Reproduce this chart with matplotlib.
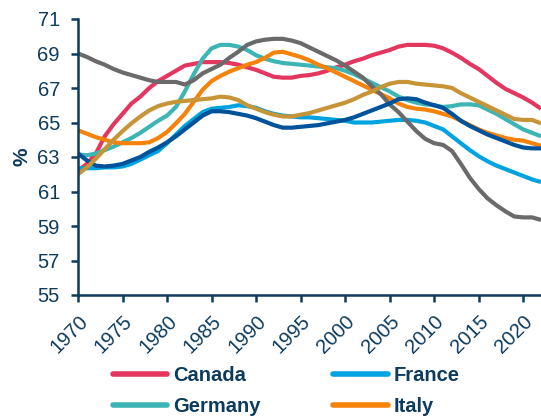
import numpy as np
import matplotlib
matplotlib.use("Agg")
import matplotlib.pyplot as plt

# working-age population share, %
years = np.arange(1970, 2023)

canada = [62.2, 62.6, 63.2, 64.2, 64.9, 65.5, 66.1, 66.5, 67.0, 67.4,
          67.7, 68.0, 68.3, 68.4, 68.5, 68.5, 68.5, 68.45, 68.35, 68.2,
          68.05, 67.85, 67.65, 67.6, 67.6, 67.7, 67.75, 67.85, 68.0, 68.2,
          68.35, 68.55, 68.7, 68.9, 69.05, 69.2, 69.4, 69.5, 69.5, 69.5,
          69.45, 69.3, 69.05, 68.75, 68.4, 68.1, 67.7, 67.3, 66.95, 66.7,
          66.45, 66.15, 65.8]
france = [62.35, 62.35, 62.35, 62.4, 62.4, 62.45, 62.6, 62.85, 63.1, 63.35,
          63.8, 64.3, 64.8, 65.2, 65.6, 65.8, 65.85, 65.9, 66.0, 65.95,
          65.85, 65.65, 65.5, 65.4, 65.35, 65.3, 65.3, 65.25, 65.2, 65.15,
          65.1, 65.0, 65.0, 65.0, 65.05, 65.1, 65.15, 65.15, 65.1, 65.0,
          64.8, 64.6, 64.2, 63.8, 63.4, 63.05, 62.75, 62.5, 62.3, 62.1,
          61.9, 61.7, 61.55]
germany = [63.15, 63.1, 63.2, 63.4, 63.6, 63.85, 64.1, 64.4, 64.75, 65.1,
           65.4, 65.9, 66.8, 67.8, 68.7, 69.3, 69.5, 69.5, 69.4, 69.2,
           68.9, 68.7, 68.55, 68.45, 68.4, 68.35, 68.3, 68.25, 68.2, 68.15,
           68.0, 67.8, 67.55, 67.3, 67.05, 66.8, 66.5, 66.3, 66.15, 66.05,
           66.0, 65.9, 65.95, 66.05, 66.05, 66.0, 65.75, 65.5, 65.2, 64.9,
           64.6, 64.4, 64.2]
italy = [64.55, 64.35, 64.15, 64.0, 63.85, 63.8, 63.8, 63.8, 63.85, 64.1,
         64.45, 64.95, 65.5, 66.2, 66.9, 67.4, 67.7, 67.95, 68.15, 68.35,
         68.5, 68.75, 69.05, 69.1, 68.95, 68.8, 68.6, 68.35, 68.15, 67.9,
         67.65, 67.4, 67.15, 66.9, 66.65, 66.4, 66.1, 65.9, 65.8, 65.75,
         65.65, 65.5, 65.35, 65.1, 64.85, 64.6, 64.4, 64.25, 64.1, 64.0,
         63.95, 63.8, 63.65]
japan = [69.0, 68.8, 68.55, 68.35, 68.1, 67.9, 67.75, 67.6, 67.45, 67.35,
         67.35, 67.35, 67.2, 67.45, 67.85, 68.1, 68.35, 68.75, 69.1, 69.5,
         69.7, 69.8, 69.85, 69.85, 69.75, 69.6, 69.35, 69.1, 68.85, 68.6,
         68.3, 67.95, 67.6, 67.1, 66.65, 66.05, 65.6, 65.05, 64.5, 64.05,
         63.8, 63.7, 63.35, 62.6, 61.8, 61.15, 60.6, 60.2, 59.85, 59.55,
         59.5, 59.5, 59.35]
uk = [63.2, 62.8, 62.5, 62.45, 62.5, 62.6, 62.8, 63.0, 63.3, 63.55,
      63.85, 64.2, 64.6, 65.0, 65.4, 65.65, 65.65, 65.6, 65.5, 65.4,
      65.25, 65.05, 64.85, 64.7, 64.7, 64.75, 64.8, 64.85, 64.95, 65.05,
      65.15, 65.3, 65.5, 65.7, 65.9, 66.1, 66.35, 66.4, 66.35, 66.15,
      66.0, 65.85, 65.5, 65.1, 64.8, 64.55, 64.3, 64.1, 63.9, 63.7,
      63.55, 63.5, 63.5]
us = [62.0, 62.4, 62.9, 63.45, 64.0, 64.5, 64.95, 65.35, 65.7, 65.95,
      66.1, 66.2, 66.25, 66.3, 66.35, 66.4, 66.5, 66.45, 66.3, 66.0,
      65.8, 65.6, 65.45, 65.35, 65.35, 65.45, 65.55, 65.7, 65.85, 66.0,
      66.15, 66.35, 66.6, 66.8, 67.05, 67.25, 67.35, 67.35, 67.25, 67.2,
      67.15, 67.1, 67.0, 66.7, 66.45, 66.2, 65.95, 65.7, 65.45, 65.2,
      65.15, 65.15, 64.95]

names = ["Canada", "France", "Germany", "Italy", "Japan", "UK", "US"]
colors = ["#E4375F", "#00A3E0", "#3DB5B5", "#F5820B", "#6A6A6A", "#00529B", "#C79438"]
series = [canada, france, germany, italy, japan, uk, us]

navy = "#0D3B5E"
plt.rcParams["font.family"] = ["Liberation Sans", "DejaVu Sans"]

fig = plt.figure(figsize=(5.41, 4.17), dpi=100)
ax = fig.add_axes([78/541, 1 - 295/417, 1 - 78/541, (295 - 19)/417])

lines = {}
for name, col, vals in zip(names, colors, series):
    ln, = ax.plot(years, vals, color=col, lw=3.0, solid_capstyle="butt",
                  solid_joinstyle="round", label=name)
    lines[name] = ln

ax.set_xlim(1970, 2022)
ax.set_ylim(55, 71)
ax.set_yticks(np.arange(55, 72, 2))
ax.set_xticks(np.arange(1970, 2021, 5))
for s in ["top", "right"]:
    ax.spines[s].set_visible(False)
for s in ["left", "bottom"]:
    ax.spines[s].set_color(navy)
    ax.spines[s].set_linewidth(1.8)
ax.tick_params(colors=navy, width=1.8, length=5, labelsize=14.5)
ax.tick_params(axis="y", pad=8)
ax.tick_params(axis="x", pad=7)
plt.setp(ax.get_xticklabels(), rotation=45, ha="right", rotation_mode="anchor")
ax.set_ylabel("%", color=navy, fontsize=15, fontweight="bold", labelpad=4)

# legend filled row by row: Canada, France / Germany, Italy / ... (lower rows fall below the frame)
order = ["Canada", "Germany", "Japan", "US", "France", "Italy", "UK"]
leg = fig.legend([lines[n] for n in order], order, ncol=2, frameon=False,
                 loc="upper left", bbox_to_anchor=(113/541, 1 - 366/417),
                 prop={"weight": "bold", "size": 14.5}, handlelength=2.7,
                 handletextpad=0.3, columnspacing=3.6, labelspacing=0.6,
                 borderaxespad=0, borderpad=0)
for t in leg.get_texts():
    t.set_color(navy)
for h in leg.legend_handles:
    h.set_linewidth(4)
    h.set_solid_capstyle("round")

fig.savefig("out.png", dpi=100)
